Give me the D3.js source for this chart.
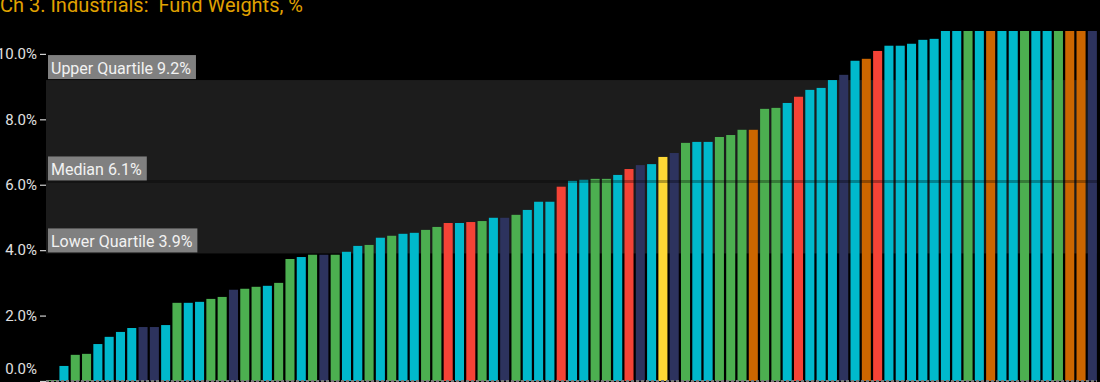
<!DOCTYPE html>
<html>
<head>
<meta charset="utf-8">
<script src="https://cdn.jsdelivr.net/npm/d3@7"></script>
<style>
  html, body { margin: 0; padding: 0; background: #000; overflow: hidden; }
  svg { display: block; }
  text { font-family: Roboto, "DejaVu Sans", sans-serif; }
</style>
</head>
<body>
<svg id="chart" width="1100" height="382"></svg>
<script>
// Fund weights in Industrials (%), sorted ascending
const weights = [
  0.03, 0.46, 0.80, 0.83, 1.13, 1.35, 1.50, 1.62, 1.65, 1.65,
  1.71, 2.39, 2.39, 2.42, 2.51, 2.57, 2.79, 2.82, 2.88, 2.91,
  3.00, 3.73, 3.79, 3.86, 3.86, 3.86, 3.95, 4.13, 4.16, 4.38,
  4.44, 4.50, 4.53, 4.62, 4.71, 4.83, 4.83, 4.86, 4.89, 4.99,
  4.99, 5.08, 5.23, 5.48, 5.48, 5.94, 6.12, 6.15, 6.18, 6.18,
  6.30, 6.48, 6.60, 6.63, 6.85, 6.97, 7.28, 7.31, 7.31, 7.46,
  7.52, 7.68, 7.68, 8.32, 8.35, 8.50, 8.69, 8.90, 8.96, 9.20,
  9.36, 9.79, 9.85, 10.09, 10.25, 10.25, 10.31, 10.43, 10.46, 10.8,
  10.9, 11.0, 11.1, 11.3, 11.5, 11.8, 12.0, 12.4, 12.9, 13.5,
  14.2, 15.0, 16.8
];

// Fund style group of each bar
const styles = [
  "G","C","G","G","C","C","C","C","N","N",
  "C","G","C","C","G","G","N","G","G","C",
  "G","G","C","G","N","G","C","C","G","C",
  "G","C","C","G","G","R","C","R","G","C",
  "N","G","C","C","C","R","C","C","G","G",
  "C","R","N","C","Y","N","G","C","C","G",
  "G","G","O","G","G","C","R","C","C","C",
  "N","C","O","R","C","C","C","C","C","C",
  "C","G","C","O","C","C","G","C","C","G",
  "O","O","N"
];

const styleKeys   = ["C", "G", "N", "R", "O", "Y"];
const styleColors = ["#00b9cc", "#4caf50", "#2d335e", "#f44336", "#cc6600", "#fdd835"];

const yTicks = [0, 2, 4, 6, 8, 10];
const title = "Ch 3. Industrials:  Fund Weights, %";

const W = 1100, H = 382;
const margin = { top: 31, right: 3, bottom: 1, left: 46 };
const yMax = 10.7;

const svg = d3.select("#chart");
svg.append("rect").attr("width", W).attr("height", H).attr("fill", "#000");

const funds = d3.range(weights.length);
const x = d3.scaleBand()
  .domain(funds)
  .range([margin.left + 1, W - margin.right + 1])
  .paddingInner(0.2)
  .paddingOuter(0.1);

const y = d3.scaleLinear()
  .domain([0, yMax])
  .range([H - margin.bottom, margin.top]);

const color = d3.scaleOrdinal().domain(styleKeys).range(styleColors);

// Quartile statistics, rounded as displayed
const sorted = weights.slice().sort(d3.ascending);
const q1 = +d3.quantile(sorted, 0.25).toFixed(1);
const med = +d3.quantile(sorted, 0.5).toFixed(1);
const q3 = +d3.quantile(sorted, 0.75).toFixed(1);

const plotLeft = margin.left, plotRight = W - margin.right;

// Interquartile band
svg.append("rect")
  .attr("x", plotLeft)
  .attr("y", y(q3))
  .attr("width", plotRight - plotLeft)
  .attr("height", y(q1) - y(q3))
  .attr("fill", "#1c1c1c");

// Y axis
const yAxis = svg.append("g")
  .attr("transform", `translate(${plotLeft},0)`)
  .call(d3.axisLeft(y).tickValues(yTicks).tickSize(6).tickPadding(3)
    .tickFormat(d => d3.format(".1f")(d) + "%"));
yAxis.select(".domain").remove();
yAxis.selectAll(".tick line").attr("stroke", "#d0d0d0").attr("stroke-width", 1.2);
yAxis.selectAll(".tick text")
  .attr("fill", "#e0e0e0")
  .style("font-size", "15px")
  .style("font-family", "Roboto, sans-serif");
yAxis.selectAll(".tick").filter(d => d === 0).select("text").attr("dy", "-0.5em");

// Bars, clipped at the top of the plot
svg.append("clipPath").attr("id", "plotClip")
  .append("rect")
  .attr("x", plotLeft).attr("y", margin.top)
  .attr("width", plotRight - plotLeft + 2)
  .attr("height", H - margin.top);

svg.append("g")
  .attr("clip-path", "url(#plotClip)")
  .selectAll("rect")
  .data(weights)
  .join("rect")
  .attr("x", (d, i) => x(i))
  .attr("width", x.bandwidth())
  .attr("y", d => y(d))
  .attr("height", d => y(0) - y(d))
  .attr("fill", (d, i) => color(styles[i]));

// X axis baseline
svg.append("line")
  .attr("x1", plotLeft).attr("x2", plotRight)
  .attr("y1", y(0)).attr("y2", y(0))
  .attr("stroke", "#777").attr("stroke-width", 2)
  .attr("stroke-dasharray", "3,2");

// Median line
svg.append("line")
  .attr("x1", plotLeft).attr("x2", plotRight)
  .attr("y1", y(med)).attr("y2", y(med))
  .attr("stroke", "#000").attr("stroke-opacity", 0.3).attr("stroke-width", 3);

// Statistic labels
const stats = [
  { label: "Upper Quartile", value: q3 },
  { label: "Median", value: med },
  { label: "Lower Quartile", value: q1 }
];
stats.forEach(s => {
  const g = svg.append("g");
  const t = g.append("text")
    .attr("x", plotLeft + 5)
    .attr("y", y(s.value) - 6.5)
    .attr("fill", "#f2f2f2")
    .style("font-size", "16px")
    .text(`${s.label} ${s.value.toFixed(1)}%`);
  const w = t.node().getComputedTextLength();
  g.insert("rect", "text")
    .attr("x", plotLeft + 2)
    .attr("y", y(s.value) - 25)
    .attr("width", w + 8)
    .attr("height", 24)
    .attr("fill", "#808080");
});

// Title
svg.append("text")
  .attr("x", 0)
  .attr("y", 12)
  .attr("fill", "#e0a200")
  .style("font-size", "21px")
  .style("white-space", "pre")
  .attr("textLength", 303)
  .attr("lengthAdjust", "spacingAndGlyphs")
  .text(title);
</script>
</body>
</html>
